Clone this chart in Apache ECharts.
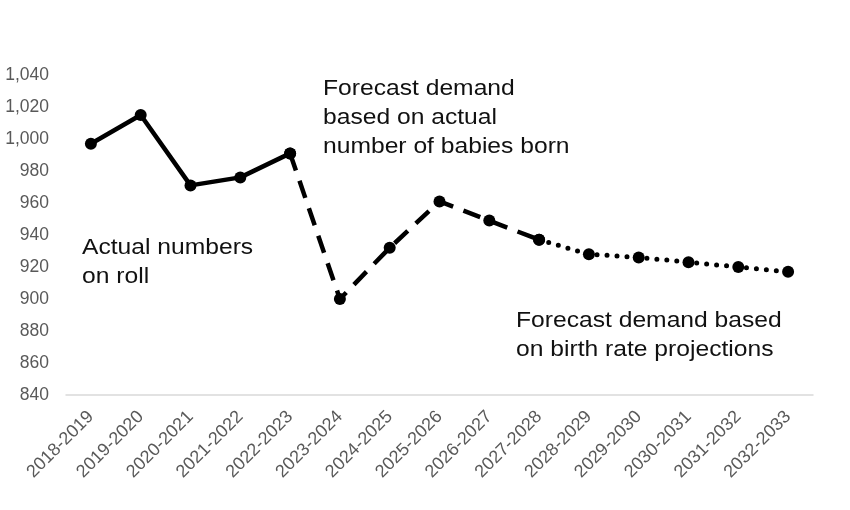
<!DOCTYPE html>
<html><head><meta charset="utf-8">
<script src="https://cdn.jsdelivr.net/npm/echarts@6/dist/echarts.min.js"></script>
<style>html,body{margin:0;padding:0;background:#fff}#c{width:850px;height:510px}</style>
</head><body><div id="c"></div>
<script>
const categories = ["2018-2019","2019-2020","2020-2021","2021-2022","2022-2023","2023-2024","2024-2025","2025-2026","2026-2027","2027-2028","2028-2029","2029-2030","2030-2031","2031-2032","2032-2033"];
const values = [997, 1015, 971, 976, 991, 900, 932, 961, 949, 937, 928, 926, 923, 920, 917];
const actualRange = [0, 4];
const birthsRange = [4, 9];
const projRange = [9, 14];
const annotationActual = ["Actual numbers", "on roll"];
const annotationBirths = ["Forecast demand", "based on actual", "number of babies born"];
const annotationProj = ["Forecast demand based", "on birth rate projections"];

function part(r){ return values.map((v,i)=> (i>=r[0]&&i<=r[1]) ? v : null); }

const FONT = "Liberation Sans, Arial, sans-serif";
const chart = echarts.init(document.getElementById('c'));
const baseSeries = {type:'line', symbol:'circle', symbolSize:12, itemStyle:{color:'#000'}, connectNulls:false, z:3};
function note(lines, x, y){
  return {type:'text', x:x, y:y, scaleX:1.12, scaleY:1,
    style:{text:lines.join('\n'), font:'22px '+FONT, fill:'#111', lineHeight:29, verticalAlign:'top', align:'left'}};
}
chart.setOption({
  animation:false,
  grid:{left:66, right:37, top:75, bottom:115},
  xAxis:{type:'category', data:categories, boundaryGap:true,
    axisLine:{lineStyle:{color:'#d9d9d9', width:1.5}}, axisTick:{show:false},
    axisLabel:{rotate:45, color:'#595959', fontSize:18, fontFamily:FONT, margin:19, interval:0}},
  yAxis:{type:'value', min:840, max:1040, interval:20,
    axisLine:{show:false}, axisTick:{show:false}, splitLine:{show:false},
    axisLabel:{color:'#595959', fontSize:17.5, fontFamily:FONT, margin:17,
      formatter:v=>v.toLocaleString('en-US')}},
  series:[
    Object.assign({}, baseSeries, {data:part(actualRange), lineStyle:{color:'#000', width:4.5}}),
    Object.assign({}, baseSeries, {data:part(birthsRange), lineStyle:{color:'#000', width:4.5, type:[18,11]}}),
    Object.assign({}, baseSeries, {data:part(projRange), lineStyle:{color:'#000', width:5, type:[0,10], cap:'round'}})
  ],
  graphic:[
    note(annotationActual, 82, 233),
    note(annotationBirths, 323, 74),
    note(annotationProj, 516, 306)
  ]
});
</script></body></html>
